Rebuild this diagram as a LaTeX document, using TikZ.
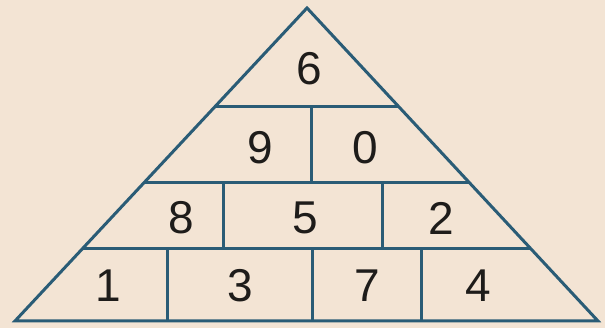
\documentclass[tikz,border=0pt]{standalone}
\usepackage{fontspec}
\setmainfont{Liberation Sans}
\definecolor{bg}{RGB}{243,228,212}
\definecolor{ln}{RGB}{42,92,118}
\definecolor{tx}{RGB}{30,28,26}
\begin{document}
\begin{tikzpicture}[x=1pt,y=1pt,
  edge/.style={draw=ln,line width=3pt,line join=miter},
  num/.style={text=tx,font=\fontsize{46}{46}\selectfont,inner sep=0pt}]
\fill[bg] (0,0) rectangle (605,328);
\useasboundingbox (0,0) rectangle (605,328);
% triangle corners (y flipped: y = 328 - ypx)
\coordinate (A) at (307,320);
\coordinate (L) at (15,7);
\coordinate (R) at (598,7);
% row lines
\coordinate (l1) at (215.4,221); \coordinate (r1) at (398.4,221);
\coordinate (l2) at (143.7,145); \coordinate (r2) at (469.3,145);
\coordinate (l3) at (82.2,79);   \coordinate (r3) at (530.8,79);
% vertical dividers
\coordinate (v1t) at (311,221); \coordinate (v1b) at (311,145);
\coordinate (v2t) at (223,145); \coordinate (v2b) at (223,79);
\coordinate (v3t) at (382,145); \coordinate (v3b) at (382,79);
\coordinate (v4t) at (167,79);  \coordinate (v4b) at (167,7);
\coordinate (v5t) at (312,79);  \coordinate (v5b) at (312,7);
\coordinate (v6t) at (421,79);  \coordinate (v6b) at (421,7);
\draw[edge] (A) -- (L) -- (R) -- cycle;
\draw[edge] (l1) -- (r1);
\draw[edge] (l2) -- (r2);
\draw[edge] (l3) -- (r3);
\draw[edge] (v1t) -- (v1b);
\draw[edge] (v2t) -- (v2b);
\draw[edge] (v3t) -- (v3b);
\draw[edge] (v4t) -- (v4b);
\draw[edge] (v5t) -- (v5b);
\draw[edge] (v6t) -- (v6b);
% numbers
\node[num] (n6) at (309,259) {6};
\node[num] (n9) at (260,180) {9};
\node[num] (n0) at (365,180) {0};
\node[num] (n8) at (181,110) {8};
\node[num] (n5) at (305,110) {5};
\node[num] (n2) at (441,110) {2};
\node[num] (n1) at (108,42) {1};
\node[num] (n3) at (240,42) {3};
\node[num] (n7) at (367,42) {7};
\node[num] (n4) at (478,42) {4};
\end{tikzpicture}
\end{document}
